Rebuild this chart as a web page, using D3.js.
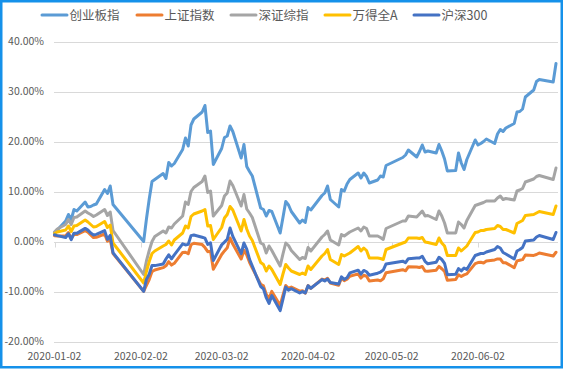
<!DOCTYPE html>
<html>
  <head>
    <meta charset="utf-8" />
    <script src="https://d3js.org/d3.v7.min.js"></script>
    <style>
      body { margin: 0; background: #fff; }
      text { font-family: "Noto Sans CJK SC", "Noto Sans", sans-serif; fill: #595959; }
      .grid { stroke: #d9d9d9; stroke-width: 1px; }
      .series { fill: none; stroke-width: 3px; stroke-linejoin: round; stroke-linecap: round; }
    </style>
  </head>
  <body>
    <svg id="chart" width="566" height="370"></svg>

    <script>
      // trading days, 2020 H1
      var dates = [
        "2020-01-02","2020-01-03","2020-01-06","2020-01-07","2020-01-08","2020-01-09","2020-01-10",
        "2020-01-13","2020-01-14","2020-01-15","2020-01-16","2020-01-17","2020-01-20","2020-01-21",
        "2020-01-22","2020-01-23",
        "2020-02-03","2020-02-04","2020-02-05","2020-02-06","2020-02-07","2020-02-10","2020-02-11",
        "2020-02-12","2020-02-13","2020-02-14","2020-02-17","2020-02-18","2020-02-19","2020-02-20",
        "2020-02-21","2020-02-24","2020-02-25","2020-02-26","2020-02-27","2020-02-28",
        "2020-03-02","2020-03-03","2020-03-04","2020-03-05","2020-03-06","2020-03-09","2020-03-10",
        "2020-03-11","2020-03-12","2020-03-13","2020-03-16","2020-03-17","2020-03-18","2020-03-19",
        "2020-03-20","2020-03-23","2020-03-24","2020-03-25","2020-03-26","2020-03-27","2020-03-30",
        "2020-03-31",
        "2020-04-01","2020-04-02","2020-04-03","2020-04-07","2020-04-08","2020-04-09","2020-04-10",
        "2020-04-13","2020-04-14","2020-04-15","2020-04-16","2020-04-17","2020-04-20","2020-04-21",
        "2020-04-22","2020-04-23","2020-04-24","2020-04-27","2020-04-28","2020-04-29","2020-04-30",
        "2020-05-06","2020-05-07","2020-05-08","2020-05-11","2020-05-12","2020-05-13","2020-05-14",
        "2020-05-15","2020-05-18","2020-05-19","2020-05-20","2020-05-21","2020-05-22","2020-05-25",
        "2020-05-26","2020-05-27","2020-05-28","2020-05-29",
        "2020-06-01","2020-06-02","2020-06-03","2020-06-04","2020-06-05","2020-06-08","2020-06-09",
        "2020-06-10","2020-06-11","2020-06-12","2020-06-15","2020-06-16","2020-06-17","2020-06-18",
        "2020-06-19","2020-06-22","2020-06-23","2020-06-24","2020-06-29","2020-06-30"
      ];

      // cumulative return, %
      var cyb = [
        1.8, 2.3, 4.1, 5.4, 4.4, 6.4, 6.1, 7.9, 6.9, 7.0, 7.3, 7.5, 10.4, 9.6, 11.1, 7.4,
        0.0, 4.5, 8.5, 12.0, 12.4, 13.6, 12.6, 15.8, 15.1, 15.6, 18.4, 20.7, 19.1, 23.3, 24.5, 25.9, 27.2, 21.8, 22.1, 15.4,
        18.6, 20.8, 21.1, 23.1, 22.0, 16.7, 19.4, 15.0, 14.0, 13.1, 6.7, 6.4, 5.1, 6.2, 6.0, 1.7, 4.8, 8.0, 7.3, 6.0, 3.7, 4.3,
        3.8, 6.8, 6.3, 9.2, 9.7, 11.1, 8.4, 6.9, 10.4, 10.1, 11.5, 12.4, 13.7, 12.7, 13.7, 13.0, 11.7, 12.3, 13.1, 12.9, 15.2,
        16.8, 17.3, 18.3, 16.9, 18.0, 19.3, 17.9, 18.1, 17.7, 19.4, 18.1, 16.5, 14.1, 14.2, 17.7, 15.7, 14.4, 16.4,
        20.3, 19.3, 19.6, 20.0, 20.5, 19.6, 21.5, 22.4, 22.0, 22.7, 23.6, 25.9, 26.0, 26.5, 28.9, 30.3, 32.0, 32.4, 31.9, 35.6
      ];
      var shz = [
        1.15, 1.10, 1.09, 1.79, 0.55, 1.47, 1.38, 2.15, 1.86, 1.31, 0.79, 0.83, 1.50, 0.07, 0.35, -2.41,
        -9.95, -8.75, -7.61, -6.02, -5.71, -5.23, -4.87, -4.04, -4.72, -4.36, -2.18, -2.14, -2.45, -0.65, -0.34, -0.62, -1.21, -2.04, -1.93, -5.57,
        -2.60, -1.88, -1.26, 0.71, -0.51, -3.50, -1.75, -2.68, -4.15, -5.33, -8.55, -8.87, -10.54, -11.41, -9.98, -12.78, -10.74, -8.80, -9.35, -9.11, -9.93, -9.83,
        -10.35, -8.83, -9.38, -7.52, -7.70, -7.35, -8.31, -8.76, -7.31, -7.83, -7.55, -6.94, -6.48, -7.31, -6.76, -6.94, -7.92, -7.69, -7.87, -7.46, -6.23,
        -5.64, -5.86, -5.07, -5.09, -5.20, -4.99, -5.89, -5.96, -5.73, -4.97, -5.45, -5.97, -7.75, -7.61, -6.67, -6.99, -6.68, -6.48,
        -4.42, -4.22, -4.16, -4.29, -3.91, -3.68, -3.49, -3.50, -4.24, -4.27, -5.25, -3.88, -3.75, -3.63, -2.70, -2.78, -2.61, -2.31, -2.90, -2.15
      ];
      var szzz = [
        1.9, 2.5, 3.4, 4.4, 3.4, 4.8, 4.9, 6.1, 5.7, 5.4, 5.0, 5.3, 6.4, 5.2, 5.9, 2.2,
        -6.6, -3.9, -1.8, 0.0, 1.0, 2.1, 1.7, 2.9, 2.7, 3.5, 5.1, 7.9, 7.4, 10.0, 10.8, 12.0, 13.1, 9.8, 10.1, 5.1,
        7.2, 9.1, 9.7, 12.1, 11.2, 7.1, 9.4, 6.5, 5.7, 4.8, -0.3, -0.6, -2.3, -0.9, -1.8, -4.9, -2.5, -0.3, -0.8, -1.8, -3.6, -3.2,
        -3.4, -1.2, -1.9, 0.9, 1.4, 2.1, 0.3, -0.7, 1.4, 1.1, 1.5, 1.9, 2.7, 2.1, 2.9, 2.6, 1.1, 1.1, 0.8, 0.4, 2.6,
        4.1, 4.1, 5.1, 4.9, 5.5, 6.1, 5.1, 5.2, 4.4, 6.1, 5.1, 3.7, 1.7, 1.7, 3.9, 3.4, 2.7, 4.2,
        7.2, 7.4, 7.6, 7.8, 8.1, 8.1, 8.7, 9.1, 8.4, 8.6, 8.3, 10.1, 10.3, 10.6, 11.9, 12.5, 13.0, 13.2, 12.4, 14.7
      ];
      var wind = [
        1.6, 1.9, 2.3, 3.1, 2.0, 3.1, 3.2, 4.3, 3.9, 3.4, 2.9, 3.0, 4.0, 2.8, 3.3, -0.3,
        -8.3, -6.0, -4.0, -2.4, -1.9, -0.9, -0.6, 0.1, -0.7, 0.3, 1.7, 3.1, 2.7, 5.0, 5.5, 6.1, 6.4, 3.1, 3.2, 0.4,
        2.8, 4.7, 5.4, 7.0, 6.3, 2.1, 4.4, 2.5, 1.1, 0.2, -4.2, -4.6, -5.9, -4.9, -5.6, -8.6, -6.5, -4.6, -5.3, -5.9, -6.6, -6.3,
        -6.6, -4.9, -5.6, -2.9, -2.4, -1.6, -3.6, -4.6, -2.6, -2.9, -2.6, -2.3, -1.0, -1.9, -1.3, -1.8, -3.3, -3.3, -3.4, -3.6, -1.6,
        -0.3, -0.1, 0.7, 0.7, 0.6, 0.8, -0.1, -0.2, -0.6, 0.7, -0.3, -0.9, -2.8, -2.8, -1.3, -1.9, -1.4, -0.9,
        1.8, 1.9, 2.2, 2.2, 2.4, 2.6, 3.2, 3.0, 2.4, 2.4, 1.7, 3.6, 3.9, 4.2, 5.2, 5.4, 5.7, 6.0, 5.4, 7.1
      ];
      var hs300 = [
        1.36, 1.18, 0.80, 1.55, 0.38, 1.67, 1.63, 2.62, 2.28, 1.69, 1.29, 1.42, 2.17, 0.43, 1.21, -2.26,
        -9.97, -7.58, -6.54, -4.80, -4.82, -4.50, -3.50, -2.66, -3.47, -2.66, -0.47, -0.69, -0.57, 1.18, 1.29, 0.84, 0.67, -0.57, -0.28, -3.82,
        -0.66, -0.13, 0.45, 2.69, 1.02, -2.43, -0.30, -1.52, -3.56, -4.91, -9.00, -9.44, -11.24, -12.39, -10.82, -13.82, -11.51, -9.13, -9.73, -9.44, -10.30, -10.02,
        -10.29, -8.84, -9.36, -7.62, -7.89, -7.50, -8.19, -8.50, -7.08, -7.57, -7.25, -6.28, -5.73, -6.54, -5.79, -6.05, -6.76, -6.34, -6.11, -5.72, -4.49,
        -3.93, -4.24, -3.43, -3.31, -3.30, -2.95, -3.96, -4.46, -4.14, -3.14, -3.60, -4.36, -6.64, -6.55, -5.43, -5.88, -5.30, -5.60,
        -2.8, -2.6, -2.4, -2.4, -2.1, -1.6, -1.0, -1.3, -2.2, -2.5, -3.5, -1.9, -1.6, -1.2, 0.1, 0.3, 0.9, 1.2, 0.4, 1.8
      ];

      var names = ["创业板指", "上证指数", "深证综指", "万得全A", "沪深300"];
      var colors = ["#5b9bd5", "#ed7d31", "#a5a5a5", "#ffc000", "#4472c4"];
      var seriesValues = [cyb, shz, szzz, wind, hs300];

      var xTickLabels = ["2020-01-02", "2020-02-02", "2020-03-02", "2020-04-02", "2020-05-02", "2020-06-02"];
      var yTicks = [-20, -10, 0, 10, 20, 30, 40];

      var svg = d3.select("#chart");
      var parse = d3.timeParse("%Y-%m-%d");

      var x = d3.scaleTime()
        .domain([parse("2020-01-02"), parse("2020-06-30")])
        .range([54.5, 556]);
      var y = d3.scaleLinear()
        .domain([-20, 40])
        .range([341.5, 41.5]);

      var plotLeft = 54, plotRight = 558;

      // frame
      svg.append("rect")
        .attr("x", 1.25).attr("y", 1.25)
        .attr("width", 560.5).attr("height", 366)
        .attr("fill", "#fff")
        .attr("stroke", "#1591ea")
        .attr("stroke-width", 2.5);

      // gridlines
      svg.selectAll(".grid")
        .data(yTicks)
        .enter().append("line")
        .attr("class", "grid")
        .attr("x1", plotLeft).attr("x2", plotRight)
        .attr("y1", function(d) { return Math.round(y(d)) + 0.5; })
        .attr("y2", function(d) { return Math.round(y(d)) + 0.5; });

      svg.selectAll(".ylabel")
        .data(yTicks)
        .enter().append("text")
        .attr("class", "ylabel")
        .attr("x", 44)
        .attr("y", function(d) { return y(d); })
        .attr("dy", "0.36em")
        .attr("text-anchor", "end")
        .attr("font-size", 10.5)
        .text(function(d) { return d.toFixed(2) + "%"; });

      // x axis sits on the 0% line, labels low
      var y0 = Math.round(y(0)) + 0.5;
      svg.append("line")
        .attr("x1", plotLeft).attr("x2", plotRight)
        .attr("y1", y0).attr("y2", y0)
        .attr("stroke", "#d9d9d9");

      svg.selectAll(".xtick")
        .data(xTickLabels)
        .enter().append("line")
        .attr("class", "xtick")
        .attr("x1", function(d) { return Math.round(x(parse(d))) + 0.5; })
        .attr("x2", function(d) { return Math.round(x(parse(d))) + 0.5; })
        .attr("y1", y0).attr("y2", y0 + 5)
        .attr("stroke", "#d9d9d9");

      svg.selectAll(".xlabel")
        .data(xTickLabels)
        .enter().append("text")
        .attr("class", "xlabel")
        .attr("x", function(d) { return x(parse(d)); })
        .attr("y", 356)
        .attr("dy", "0.36em")
        .attr("text-anchor", "middle")
        .attr("font-size", 10.5)
        .text(function(d) { return d; });

      // lines
      var line = d3.line()
        .x(function(d, i) { return x(parse(dates[i])); })
        .y(function(d) { return y(d); });

      svg.selectAll(".series")
        .data(seriesValues)
        .enter().append("path")
        .attr("class", "series")
        .attr("stroke", function(d, i) { return colors[i]; })
        .attr("d", line);

      // legend
      var legendX = [42, 137, 231, 325, 414];
      var legend = svg.selectAll(".legend")
        .data(names)
        .enter().append("g")
        .attr("class", "legend")
        .attr("transform", function(d, i) { return "translate(" + legendX[i] + ",15)"; });

      legend.append("line")
        .attr("x1", 0).attr("x2", 25)
        .attr("y1", 0).attr("y2", 0)
        .attr("stroke", function(d, i) { return colors[i]; })
        .attr("stroke-width", 3)
        .attr("stroke-linecap", "round");

      legend.append("text")
        .attr("x", 27.5)
        .attr("dy", "0.36em")
        .attr("font-size", 12.5)
        .text(function(d) { return d; });
    </script>
  </body>
</html>
